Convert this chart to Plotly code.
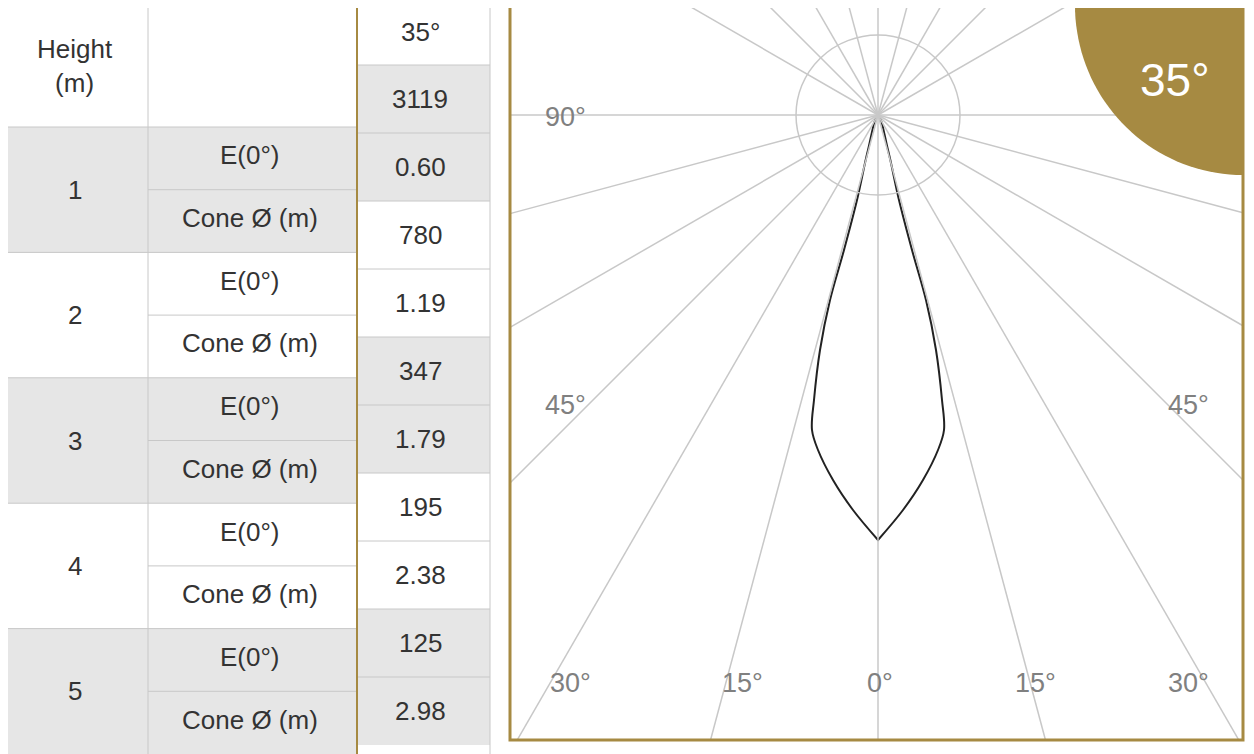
import numpy as np
import plotly.graph_objects as go

GOLD = "#a68a42"
GRAY = "#e6e6e6"
LINE = "#c8c8c8"

heights = ["1", "2", "3", "4", "5"]
row_labels = ["E(0°)", "Cone Ø (m)"]
beam = "35°"
values = ["3119", "0.60", "780", "1.19", "347", "1.79", "195", "2.38", "125", "2.98"]
value_shaded = [True, True, False, False, True, True, False, False, True, True]

# polar curve: depth below lamp (px) and half-width (px)
curve_depth = [0, 35, 85, 135, 185, 235, 285, 315, 335, 365, 395, 425]
curve_half = [0, 10, 21, 34, 48, 58, 64, 66, 60, 45, 25, 0]
ray_angles = [0, 15, 30, 45, 60, 75, 90]
up_angles = [0, 15, 30, 45, 60]
angle_labels = [("90°", 565, 117), ("45°", 565, 405), ("45°", 1188, 405),
                ("30°", 570, 683), ("15°", 742, 683), ("0°", 880, 683),
                ("15°", 1035, 683), ("30°", 1188, 683)]

fig = go.Figure()
shapes, ann = [], []
font = dict(family="Liberation Sans, Arial", size=26, color="#333")

def rect(x0, y0, x1, y1, fill):
    shapes.append(dict(type="rect", x0=x0, y0=y0, x1=x1, y1=y1, fillcolor=fill,
                       line=dict(width=0), layer="below"))

def text(x, y, t, **kw):
    f = dict(font); f.update(kw)
    ann.append(dict(x=x, y=y, text=t, showarrow=False, font=f, xanchor="center", yanchor="middle"))

# table
block_top, block_h = 127, 125.4
for i, h in enumerate(heights):
    y0 = block_top + i * block_h
    if i % 2 == 0:
        rect(0, y0, 357, y0 + block_h, GRAY)
    text(75, y0 + block_h / 2, h)
    for j, lab in enumerate(row_labels):
        text(250, y0 + block_h / 4 + j * block_h / 2 - 3, lab)
    shapes.append(dict(type="line", x0=148, x1=357, y0=y0 + block_h / 2, y1=y0 + block_h / 2,
                       line=dict(color=LINE, width=1)))
    shapes.append(dict(type="line", x0=0, x1=357, y0=y0, y1=y0, line=dict(color=LINE, width=1)))
text(75, 66, "Height<br>(m)")
text(420, 32, beam)
vh = 68
for k, v in enumerate(values):
    y0 = 65 + k * vh
    if value_shaded[k]:
        rect(357, y0, 490, y0 + vh, GRAY)
    text(420, y0 + vh / 2, v)
    shapes.append(dict(type="line", x0=357, x1=490, y0=y0, y1=y0, line=dict(color=LINE, width=1)))
shapes.append(dict(type="line", x0=148, x1=148, y0=0, y1=754, line=dict(color=LINE, width=1)))
shapes.append(dict(type="line", x0=357, x1=357, y0=0, y1=754, line=dict(color=GOLD, width=2)))
shapes.append(dict(type="line", x0=0, x1=357, y0=3, y1=3, line=dict(color=GOLD, width=2)))
shapes.append(dict(type="line", x0=2, x1=2, y0=0, y1=754, line=dict(color=GOLD, width=2)))
shapes.append(dict(type="line", x0=490, x1=490, y0=0, y1=754, line=dict(color=LINE, width=1)))

# diagram
X0, X1, Y0, Y1 = 510, 1243, 5, 740
cx, cy = 878, 115

def clip(dx, dy):
    ts = []
    if dx > 0: ts.append((X1 - cx) / dx)
    if dx < 0: ts.append((X0 - cx) / dx)
    if dy > 0: ts.append((Y1 - cy) / dy)
    if dy < 0: ts.append((Y0 - cy) / dy)
    return min(ts)

def ray(dx, dy):
    t = clip(dx, dy)
    shapes.append(dict(type="line", x0=cx, y0=cy, x1=cx + dx * t, y1=cy + dy * t,
                       line=dict(color=LINE, width=1.5)))

for a in ray_angles:
    for s in ([1, -1] if a else [1]):
        ray(s * np.sin(np.radians(a)), np.cos(np.radians(a)))
for a in up_angles:
    for s in ([1, -1] if a else [1]):
        ray(s * np.sin(np.radians(a)), -np.cos(np.radians(a)))
shapes.append(dict(type="circle", x0=cx - 82, x1=cx + 82, y0=cy - 80, y1=cy + 80,
                   line=dict(color=LINE, width=1.5)))

th = np.linspace(np.pi / 2, np.pi, 40)
ax_ = 1243 + 168 * np.cos(th)
ay_ = 5 + 170 * np.sin(th)
path = "M 1243,5 " + " ".join(f"L {x:.1f},{y:.1f}" for x, y in zip(ax_, ay_)) + " Z"
shapes.append(dict(type="path", path=path, fillcolor=GOLD, line=dict(width=0)))
text(1175, 80, beam, size=46, color="white")

shapes.append(dict(type="rect", x0=X0, x1=X1, y0=Y0, y1=Y1, line=dict(color=GOLD, width=3)))

for t, x, y in angle_labels:
    text(x, y, t, color="#808080", size=27)

d = np.array(curve_depth); w = np.array(curve_half)
xs = list(cx - w) + list(cx + w[::-1])
ys = list(cy + d) + list(cy + d[::-1])
fig.add_trace(go.Scatter(x=xs, y=ys, mode="lines", line=dict(color="#222", width=2, shape="spline"),
                         hoverinfo="skip"))

# ranges offset by 8px to cancel the page's default body margin
fig.update_layout(width=1254, height=754, margin=dict(l=0, r=0, t=0, b=0), showlegend=False,
                  plot_bgcolor="white", paper_bgcolor="white", shapes=shapes, annotations=ann,
                  xaxis=dict(range=[8, 1262], visible=False, fixedrange=True),
                  yaxis=dict(range=[762, 8], visible=False, fixedrange=True))
fig.write_html("out.html")
